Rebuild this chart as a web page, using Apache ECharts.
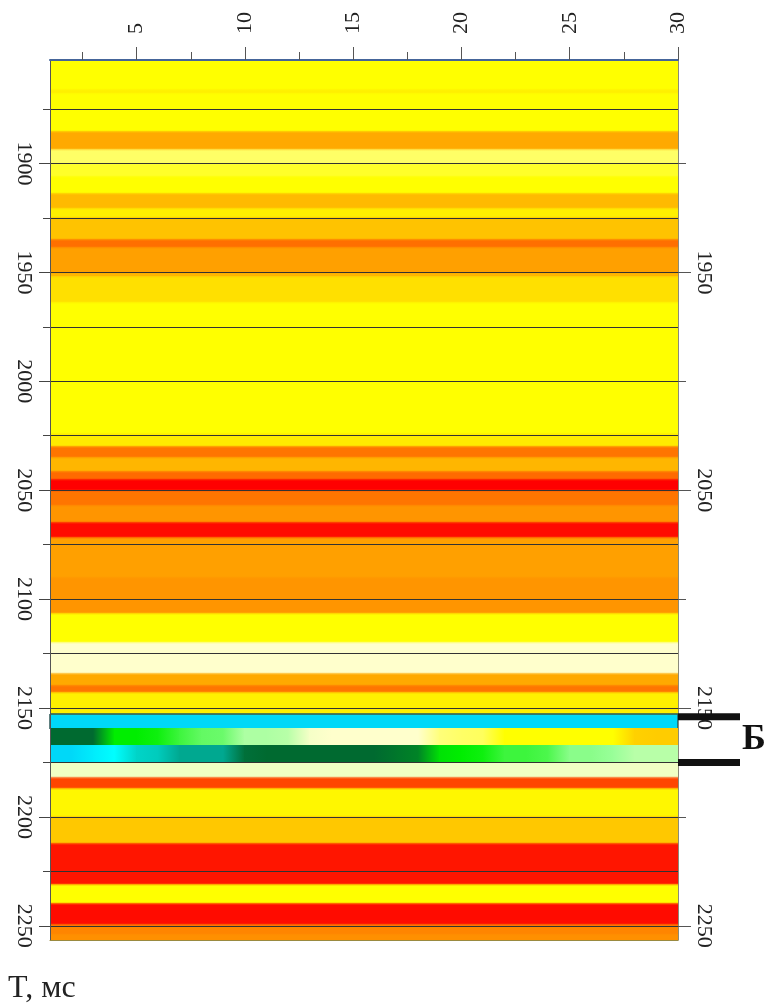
<!DOCTYPE html>
<html>
<head>
<meta charset="utf-8">
<script src="https://cdn.jsdelivr.net/npm/echarts@6.0.0/dist/echarts.min.js"></script>
<style>
html,body{margin:0;padding:0;background:#ffffff;}
#chart{width:770px;height:1007px;}
</style>
</head>
<body>
<div id="chart"></div>
<script>
// ---- data ----
const traces = [1,2,3,4,5,6,7,8,9,10,11,12,13,14,15,16,17,18,19,20,21,22,23,24,25,26,27,28,29,30];
const timeMin = 1852.5;
const timeMax = 2256.5;

// band boundaries (T, ms) and amplitude class of each laterally uniform band
const bandEdges = [1852.5, 1866, 1868, 1885.4, 1893.8, 1899.8, 1906, 1913.6, 1920.5, 1925, 1935, 1938.8,
  1950.5, 1952, 1964, 2024, 2030, 2035, 2041.6, 2045, 2050, 2057, 2065, 2071.5, 2090, 2106.5,
  2119.7, 2134, 2139.5, 2143, 2153.2, 2159.2, 2167, 2174.8, 2181.7, 2186.8, 2200, 2212, 2231,
  2239.6, 2249.6, 2254, 2256.5];
const bandValues = [0, -0.3, 0, -1.8, 0.5, 0.2, 0, -1.4, -0.3, -1.2, -2.9,
  -2, -1.5, -0.6, 0, -0.4, -2.8, -1.5, -3, -4, -2.8, -2.2, -3.9, -2, -2.2,
  0, 1, -1.8, -2.8, -0.3, 7, null, null, 1.15, -3.35, -0.15, -1.1, -3.8,
  0, -3.9, -2.5, -2.3];

// laterally varying layers inside the anomaly zone
const rowATime = [2159.2, 2167];
const rowA = [4, 4, 4, 3, 3, 2.9, 2.6, 2.35, 2.3, 1.8, 1.8, 1.7, 1.1, 1, 1, 1, 1, 1, 0.6, 0.5, 0.45, 0, 0, 0, 0, 0, 0, -0.9, -1, -1];
const rowBTime = [2167, 2174.8];
const rowB = [7, 7, 6.5, 6, 5.5, 5.4, 5, 5, 5, 4.1, 4, 4, 4, 4, 4, 4, 3.9, 3.8, 3.1, 3, 2.9, 2.6, 2.6, 2.5, 2.1, 2.1, 2, 1.7, 1.7, 1.7];

// colour classes
const paletteMin = -4;
const paletteMax = 7;
const palette = ['#ff0000', '#ff6a00', '#ffa000', '#ffcc00', '#ffff00', '#ffffcc',
  '#99ff99', '#00ee00', '#006a30', '#00a890', '#00ffff', '#00d8f8'];
const contourFrom = 6; // uniform bands at or above this class get a contour outline

// ticks / labels
const xMajorTicks = [5, 10, 15, 20, 25, 30];
const xMinorTicks = [2.5, 7.5, 12.5, 17.5, 22.5, 27.5];
const yLeftLabels = [1900, 1950, 2000, 2050, 2100, 2150, 2200, 2250];
const yGridLines = [1875, 1900, 1925, 1950, 1975, 2000, 2025, 2050, 2075, 2100, 2125, 2150, 2175, 2200, 2225, 2250];
const yRightLabels = [1950, 2050, 2150, 2250];
const yRightMinor = [1900, 2000, 2100, 2200];
const axisTitle = 'T, мс';
const zoneName = 'Б';
const zoneBounds = [2154, 2175];

// ---- build items ----
// [x0, x1, t0, t1, vLeft, vRight, vAbove, vBelow, isBand]
const items = [];
for (let i = 0; i < bandValues.length; i++) {
  if (bandValues[i] === null) continue;
  const above = i > 0 ? bandValues[i - 1] : null;
  const below = i < bandValues.length - 1 ? bandValues[i + 1] : null;
  items.push([traces[0], traces[traces.length - 1], bandEdges[i], bandEdges[i + 1], bandValues[i], bandValues[i],
    above === null ? '-' : above, below === null ? '-' : below, 1]);
}
function pushRow(times, vals) {
  for (let i = 0; i < traces.length - 1; i++) {
    items.push([traces[i], traces[i + 1], times[0], times[1], vals[i], vals[i + 1], '-', '-', 0]);
  }
}
pushRow(rowATime, rowA);
pushRow(rowBTime, rowB);

function colorOf(v) {
  return echarts.color.lerp((v - paletteMin) / (paletteMax - paletteMin), palette);
}
function mix(a, b) {
  return echarts.color.lerp(0.5, [a, b]);
}

const serif = 'Liberation Serif';
const chart = echarts.init(document.getElementById('chart'), null, {renderer: 'canvas'});

const yBase = {type: 'value', inverse: true, min: timeMin, max: timeMax};
const plain = function (v) { return String(v); };

chart.setOption({
  animation: false,
  backgroundColor: '#ffffff',
  grid: {left: 50, right: 92, top: 60, bottom: 67},
  xAxis: [
    {
      type: 'value', position: 'top', min: traces[0], max: traces[traces.length - 1], z: 4,
      axisLine: {show: true, lineStyle: {color: '#45659a', width: 2}},
      axisTick: {show: true, customValues: xMajorTicks, length: 13, lineStyle: {color: '#555'}},
      axisLabel: {show: true, customValues: xMajorTicks, rotate: -90, margin: 26, formatter: plain,
        fontFamily: serif, fontSize: 22, color: '#222'},
      splitLine: {show: false}
    },
    {
      type: 'value', position: 'top', min: traces[0], max: traces[traces.length - 1], z: 4,
      axisLine: {show: false},
      axisTick: {show: true, customValues: xMinorTicks, length: 8, lineStyle: {color: '#555'}},
      axisLabel: {show: false},
      splitLine: {show: false}
    },
    {
      type: 'value', position: 'bottom', min: traces[0], max: traces[traces.length - 1], z: 4,
      axisLine: {show: true, lineStyle: {color: '#9a8a40', width: 1}},
      axisTick: {show: false},
      axisLabel: {show: false},
      splitLine: {show: false}
    }
  ],
  yAxis: [
    Object.assign({}, yBase, {
      position: 'left', z: 4,
      axisLine: {show: true, lineStyle: {color: '#555', width: 1}},
      axisTick: {show: true, customValues: yLeftLabels, length: 11, lineStyle: {color: '#444'}},
      axisLabel: {show: true, customValues: yLeftLabels, rotate: -90, margin: 15, formatter: plain,
        fontFamily: serif, fontSize: 22, color: '#222'},
      splitLine: {show: false}
    }),
    Object.assign({}, yBase, {
      position: 'left', z: 3,
      axisLine: {show: false},
      axisTick: {show: true, customValues: yGridLines, length: 7, lineStyle: {color: '#444'}},
      axisLabel: {show: false},
      splitLine: {show: true, lineStyle: {color: '#333', width: 1}}
    }),
    Object.assign({}, yBase, {
      position: 'right', z: 4,
      axisLine: {show: true, lineStyle: {color: '#8a8a7a', width: 1}},
      axisTick: {show: true, customValues: yRightLabels, length: 13, lineStyle: {color: '#555'}},
      axisLabel: {show: true, customValues: yRightLabels, rotate: -90, margin: 15, formatter: plain,
        fontFamily: serif, fontSize: 22, color: '#222'},
      splitLine: {show: false}
    }),
    Object.assign({}, yBase, {
      position: 'right', z: 4,
      axisLine: {show: false},
      axisTick: {show: true, customValues: yRightMinor, length: 8, lineStyle: {color: '#555'}},
      axisLabel: {show: false},
      splitLine: {show: false}
    })
  ],
  series: [{
    type: 'custom',
    xAxisIndex: 0,
    yAxisIndex: 0,
    z: 2,
    encode: {x: [0, 1], y: [2, 3]},
    data: items,
    renderItem: function (params, api) {
      const item = items[params.dataIndex];
      const p0 = api.coord([item[0], item[2]]);
      const p1 = api.coord([item[1], item[3]]);
      const x0 = Math.floor(Math.min(p0[0], p1[0])), x1 = Math.ceil(Math.max(p0[0], p1[0]));
      const y0 = Math.floor(Math.min(p0[1], p1[1])), y1 = Math.ceil(Math.max(p0[1], p1[1]));
      const h = y1 - y0;
      const v0 = item[4], v1 = item[5];
      const c0 = colorOf(v0), c1 = colorOf(v1);
      const isBand = item[8] === 1;
      let fill;
      if (!isBand) {
        fill = (v0 === v1) ? c0 : new echarts.graphic.LinearGradient(0, 0, 1, 0,
          [{offset: 0, color: c0}, {offset: 1, color: c1}]);
      } else {
        const above = item[6], below = item[7];
        const f = Math.min(0.35, 2 / Math.max(h, 1));
        const cTop = above === '-' ? c0 : mix(colorOf(above), c0);
        const cBot = below === '-' ? c0 : mix(c0, colorOf(below));
        fill = new echarts.graphic.LinearGradient(0, 0, 0, 1, [
          {offset: 0, color: cTop}, {offset: f, color: c0},
          {offset: 1 - f, color: c0}, {offset: 1, color: cBot}]);
      }
      const outline = isBand && v0 >= contourFrom;
      return {
        type: 'rect',
        shape: {x: x0, y: y0, width: x1 - x0, height: h},
        style: outline ? {fill: fill, stroke: '#2b5656', lineWidth: 1} : {fill: fill}
      };
    }
  }]
});

// annotations placed via the chart's own scale
const xEdge = chart.convertToPixel({xAxisIndex: 0}, traces[traces.length - 1]);
const yTop = chart.convertToPixel({yAxisIndex: 0}, zoneBounds[0]);
const yBot = chart.convertToPixel({yAxisIndex: 0}, zoneBounds[1]);
chart.setOption({
  graphic: [
    {type: 'rect', z: 100, shape: {x: xEdge, y: yTop - 3.5, width: 62, height: 7}, style: {fill: '#111'}},
    {type: 'rect', z: 100, shape: {x: xEdge, y: yBot - 3.5, width: 62, height: 7}, style: {fill: '#111'}},
    {type: 'text', z: 100, x: xEdge + 76, y: (yTop + yBot) / 2,
      style: {text: zoneName, font: 'bold 36px "Liberation Serif"', fill: '#111', align: 'center', verticalAlign: 'middle'}},
    {type: 'text', z: 100, x: 8, y: 989,
      style: {text: axisTitle, font: '32px "Liberation Serif"', fill: '#222', align: 'left', verticalAlign: 'middle'}}
  ]
});
</script>
</body>
</html>
